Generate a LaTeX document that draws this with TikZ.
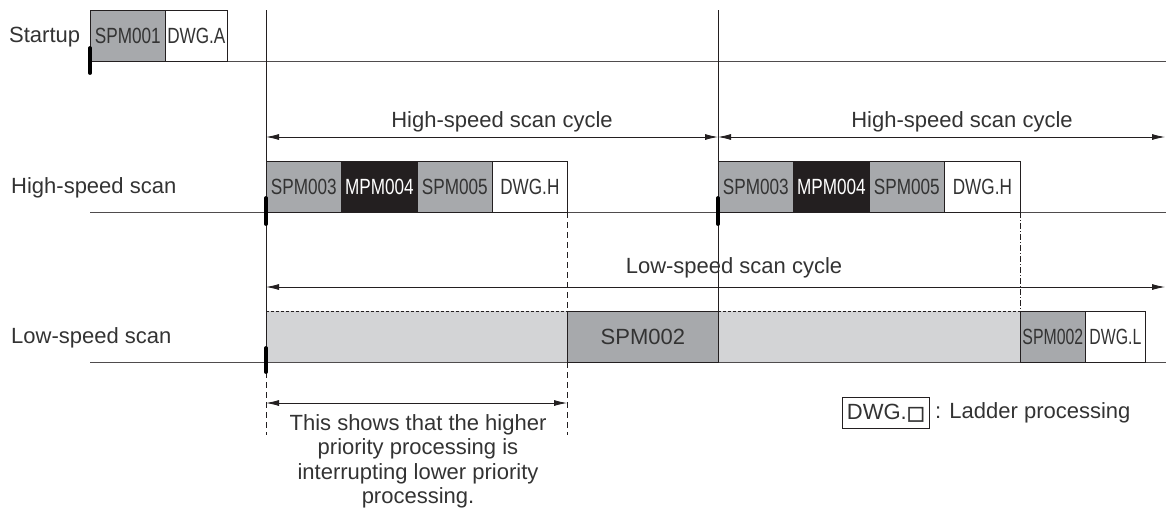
\documentclass[tikz,border=0pt]{standalone}
\usepackage{fontspec}
\setmainfont{Liberation Sans}
\newfontfamily\condfont[FakeStretch=0.78]{Liberation Sans}
\newfontfamily\narrowfont[FakeStretch=0.72]{Liberation Sans}
\newfontfamily\dejavu[FakeBold=2.5]{DejaVu Sans}
\usetikzlibrary{arrows.meta}
\definecolor{mgray}{HTML}{A7A9AC}
\definecolor{lgray}{HTML}{D3D4D6}
\definecolor{dk}{HTML}{231F20}
\definecolor{txt}{HTML}{333333}
\begin{document}
\begin{tikzpicture}[x=1pt,y=-1pt,
  font=\fontsize{22}{24}\selectfont, text=txt,
  cell/.style={draw=dk, line width=0.7pt, anchor=north west, minimum height=51pt,
    inner sep=0pt, text=txt, font=\condfont\fontsize{22}{24}\selectfont},
  lbl/.style={anchor=west, inner sep=0pt},
  base/.style={draw=dk!80, line width=0.8pt},
  vline/.style={draw=dk, line width=0.8pt},
  tick/.style={draw=black, line width=3.8pt, line cap=round},
  dimarrow/.style={draw=dk, line width=0.8pt, {Latex[length=13pt,width=6pt]}-{Latex[length=13pt,width=6pt]}},
  dashv/.style={draw=dk, line width=0.8pt, dash pattern=on 6pt off 4pt},
]
\useasboundingbox (0,0) rectangle (1166,509);

% light gray regions in low-speed row
\fill[lgray] (266,311) rectangle (567,362);
\fill[lgray] (718,311) rectangle (1020,362);
\draw[dk, line width=0.7pt, dash pattern=on 3pt off 2pt] (266,311) -- (567,311);
\draw[dk, line width=0.7pt, dash pattern=on 3pt off 2pt] (718,311) -- (1020,311);

% coordinates
\coordinate (v1top) at (266,10);
\coordinate (v1bot) at (266,372);
\coordinate (v1end) at (266,435);
\coordinate (v2top) at (718,10);
\coordinate (v2bot) at (718,362);
\coordinate (d1top) at (567,212);
\coordinate (d1end) at (567,435);
\coordinate (d2top) at (1020,212);
\coordinate (d2bot) at (1020,311);

% baselines
\coordinate (b0a) at (90,61);  \coordinate (b0b) at (1166,61);
\coordinate (b1a) at (90,212); \coordinate (b1b) at (1166,212);
\coordinate (b2a) at (90,362); \coordinate (b2b) at (1166,362);
\draw[base] (b0a) -- (b0b);
\draw[base] (b1a) -- (b1b);
\draw[base] (b2a) -- (b2b);

% row labels
\node[lbl] (lstart) at (9,37) {Startup};
\node[lbl] (lhigh) at (11,188) {High-speed scan};
\node[lbl] (llow) at (11,338) {Low-speed scan};

% startup boxes
\node[cell, fill=mgray, minimum width=75pt] (s1) at (90,10) {SPM001};
\node[cell, fill=white, minimum width=62pt] (s2) at (165,10) {DWG.A};

% high-speed boxes, first cycle
\node[cell, fill=mgray, minimum width=75pt] (h1) at (266,161) {SPM003};
\node[cell, fill=dk, text=white, minimum width=76pt] (h2) at (341,161) {MPM004};
\node[cell, fill=mgray, minimum width=75pt] (h3) at (417,161) {SPM005};
\node[cell, fill=white, minimum width=75pt] (h4) at (492,161) {DWG.H};
% second cycle
\node[cell, fill=mgray, minimum width=75pt] (k1) at (718,161) {SPM003};
\node[cell, fill=dk, text=white, minimum width=76pt] (k2) at (793,161) {MPM004};
\node[cell, fill=mgray, minimum width=75pt] (k3) at (869,161) {SPM005};
\node[cell, fill=white, minimum width=76pt] (k4) at (944,161) {DWG.H};

% low-speed boxes
\node[cell, fill=mgray, minimum width=151pt, font=\fontsize{22}{24}\selectfont] (l1) at (567,311) {SPM002};
\node[cell, fill=mgray, minimum width=65pt, font=\narrowfont\fontsize{22}{24}\selectfont] (l2) at (1020,311) {SPM002};
\node[cell, fill=white, minimum width=60pt, font=\narrowfont\fontsize{22}{24}\selectfont] (l3) at (1085,311) {DWG.L};

% vertical lines
\draw[vline] (v1top) -- (v1bot);
\draw[dashv] (v1bot) -- (v1end);
\draw[vline] (v2top) -- (v2bot);
\draw[dashv] (d1top) -- (d1end);
\draw[draw=dk, line width=0.7pt, dash pattern=on 6pt off 2pt on 1pt off 2pt] (d2top) -- (d2bot);

% ticks
\draw[tick] (90,48) -- (90,73);
\draw[tick] (266,198) -- (266,224);
\draw[tick] (718,198) -- (718,224);
\draw[tick] (266,348) -- (266,372);

% cycle arrows
\coordinate (a1l) at (266,137); \coordinate (a1r) at (718,137);
\coordinate (a2l) at (718,137); \coordinate (a2r) at (1165,137);
\draw[dimarrow] (a1l) -- (a1r);
\draw[dimarrow] (a2l) -- (a2r);
\node (t1) at (502,122) {High-speed scan cycle};
\node (t2) at (962,122) {High-speed scan cycle};
\coordinate (a3l) at (266,287); \coordinate (a3r) at (1165,287);
\draw[dimarrow] (a3l) -- (a3r);
\node (t3) at (734,268) {Low-speed scan cycle};

% interruption arrow
\coordinate (a4l) at (266,403); \coordinate (a4r) at (567,403);
\draw[dimarrow] (a4l) -- (a4r);
\node[anchor=north, align=center, font=\fontsize{22}{24.5}\selectfont, inner sep=0pt] (note) at (418,414)
  {This shows that the higher\\priority processing is\\interrupting lower priority\\processing.};

% legend
\node[draw=dk, line width=0.7pt, anchor=north west, minimum width=87pt, minimum height=31pt, inner sep=0pt] (leg) at (842,397)
  {DWG.{\dejavu\fontsize{19}{20}\selectfont □}};
\node[anchor=west, inner sep=0pt] (legt) at (935,413) {: Ladder processing};
\end{tikzpicture}
\end{document}
